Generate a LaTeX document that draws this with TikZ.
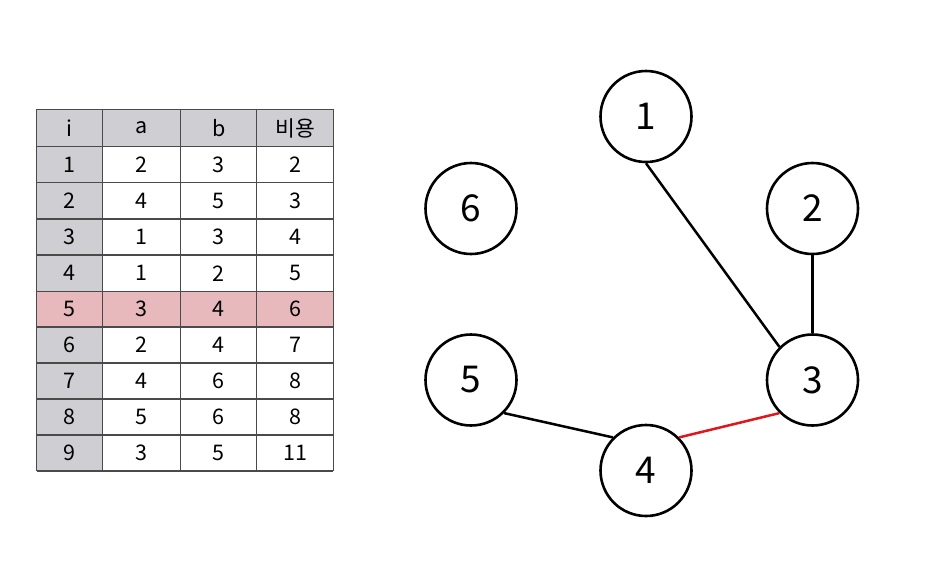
\documentclass[tikz,border=0pt]{standalone}
\usepackage{fontspec}
\setmainfont{Noto Sans CJK KR}
\definecolor{cellgray}{HTML}{CFCED3}
\definecolor{cellpink}{HTML}{E8B9BC}
\definecolor{gridline}{HTML}{4A4A4A}
\definecolor{edgered}{HTML}{E0161C}
\begin{document}
\begin{tikzpicture}[x=1pt,y=-1pt,
  cell/.style={font=\fontsize{21.5}{21.5}\selectfont, inner sep=0pt, anchor=center},
  vertex/.style={circle, draw=black, line width=2.6pt, minimum size=91pt, inner sep=0pt, font=\fontsize{37}{37}\selectfont},
  edge/.style={line width=2.5pt, black},
  redge/.style={line width=2.5pt, edgered},
  grid/.style={line width=1.4pt, gridline}]
\useasboundingbox[fill=white] (0,0) rectangle (936,568);
% fills
\fill[cellgray] (36.7,109.3) rectangle (333.3,146.7);
\fill[cellgray] (36.7,146.7) rectangle (102.7,471);
\fill[cellpink] (36.7,291.7) rectangle (333.3,327);
% grid
\foreach \y in {109.3,146.7,182.7,219,255,291.7,327,363,399,435,471}
  \draw[grid] (36.7,\y) -- (333.3,\y);
\foreach \x in {36.7,102.7,180.7,256.7,333.3}
  \draw[grid] (\x,109.3) -- (\x,471);
% header
\node[cell] (h-i) at (69.7,128) {i};
\node[cell] (h-a) at (141.7,128) {a};
\node[cell] (h-b) at (218.7,128) {b};
\node[cell] (h-c) at (295,128) {비용};
% rows
\foreach \r/\yc/\va/\vb/\vc in {1/164.7/2/3/2, 2/200.8/4/5/3, 3/237/1/3/4, 4/273.3/1/2/5, 5/309.3/3/4/6, 6/345/2/4/7, 7/381/4/6/8, 8/417/5/6/8, 9/453/3/5/11}{
  \node[cell] (r\r-i) at (69.7,\yc) {\r};
  \node[cell] (r\r-a) at (141.7,\yc) {\va};
  \node[cell] (r\r-b) at (218.7,\yc) {\vb};
  \node[cell] (r\r-c) at (295,\yc) {\vc};
}
% graph
\node[vertex] (n1) at (646,116.5) {1};
\node[vertex] (n2) at (812.5,208.5) {2};
\node[vertex] (n3) at (812.5,380) {3};
\node[vertex] (n4) at (646,470.5) {4};
\node[vertex] (n5) at (471,380) {5};
\node[vertex] (n6) at (471,208.5) {6};
\draw[edge] (n1.south) -- (n3.north west);
\draw[edge] (n2.south) -- (n3.north);
\draw[edge] (n5.south east) -- (n4.north west);
\draw[redge] (n4.north east) -- (n3.south west);
\end{tikzpicture}
\end{document}
